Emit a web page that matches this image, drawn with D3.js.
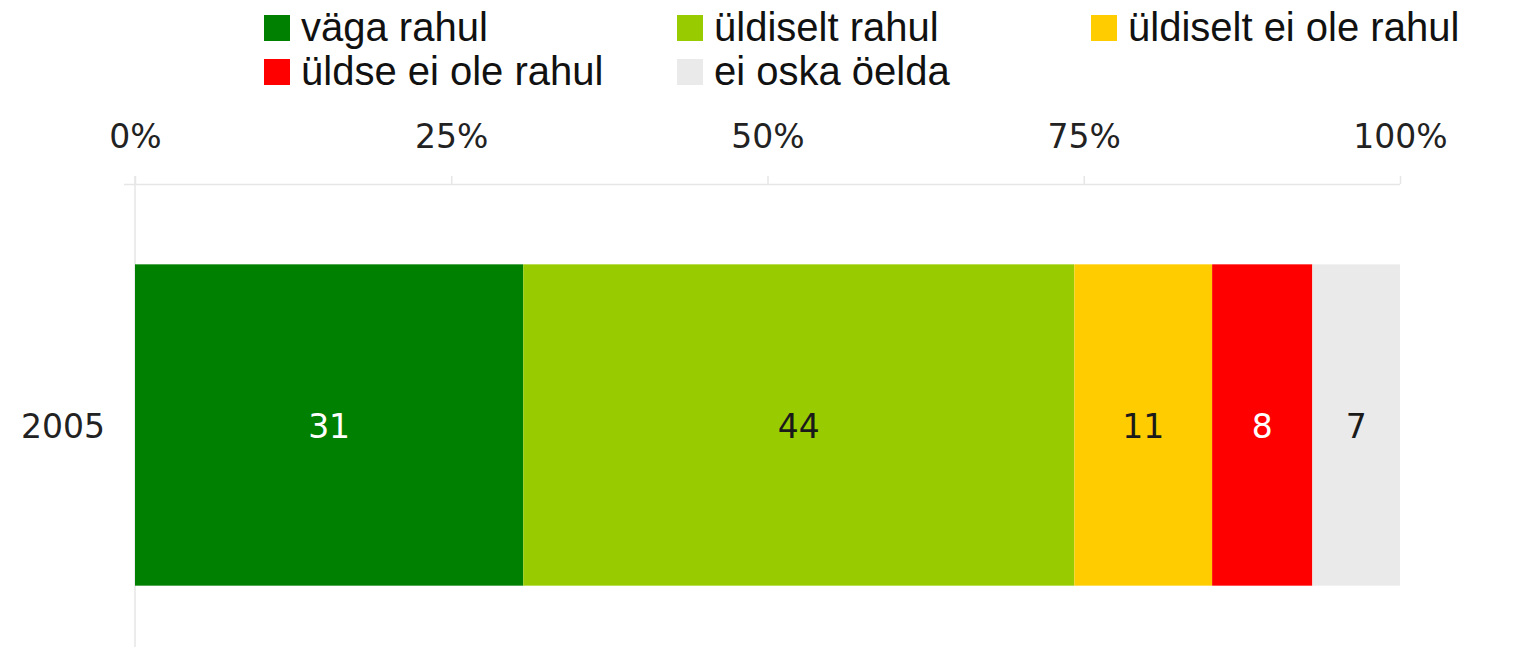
<!DOCTYPE html>
<html>
<head>
<meta charset="utf-8">
<script src="https://cdn.jsdelivr.net/npm/d3@7"></script>
<style>
  html, body { margin: 0; padding: 0; background: #ffffff; }
  svg { display: block; }
</style>
</head>
<body>
<div id="chart"></div>
<script>
const categories = ["2005"];
const seriesNames = ["väga rahul", "üldiselt rahul", "üldiselt ei ole rahul", "üldse ei ole rahul", "ei oska öelda"];
const seriesValues = [31, 44, 11, 8, 7];
const seriesColors = ["#008000", "#99cc00", "#ffcc00", "#ff0000", "#eaeaea"];
const labelColors = ["#ffffff", "#1a1a1a", "#1a1a1a", "#ffffff", "#1a1a1a"];
const tickValues = [0, 25, 50, 75, 100];
const tickLabels = ["0%", "25%", "50%", "75%", "100%"];

(function () {
const W = 1539, H = 647;
const svg = d3.select("#chart").append("svg").attr("width", W).attr("height", H);

const mLeft = 135, mRight = 1400, mTop = 184, mBottom = 666;
const x = d3.scaleLinear().domain([0, 100]).range([mLeft, mRight]);
const y = d3.scaleBand().domain(categories).range([mTop, mBottom]).paddingInner(0.2).paddingOuter(0.2);

const total = d3.sum(seriesValues);
const stackData = [{cat: categories[0]}];
seriesNames.forEach((n, i) => stackData[0][n] = seriesValues[i] / total * 100);
const stacked = d3.stack().keys(seriesNames)(stackData);

const gridColor = "#e6e6e6";
// axis lines
svg.append("line").attr("x1", 124).attr("x2", mRight).attr("y1", mTop + 0.5).attr("y2", mTop + 0.5)
  .attr("stroke", gridColor).attr("stroke-width", 1.5);
svg.append("line").attr("x1", mLeft).attr("x2", mLeft).attr("y1", mTop - 8).attr("y2", H)
  .attr("stroke", gridColor).attr("stroke-width", 1.5);

const axis = d3.axisTop(x).tickValues(tickValues).tickFormat((d, i) => tickLabels[i]).tickSize(8).tickPadding(28);
const ga = svg.append("g").attr("transform", `translate(0,${mTop})`).call(axis);
ga.select(".domain").remove();
ga.selectAll(".tick line").attr("stroke", gridColor).attr("stroke-width", 1.5);
ga.selectAll(".tick text").attr("font-family", "DejaVu Sans, Verdana, sans-serif")
  .attr("font-size", 33).attr("fill", "#222");

// bars
const gs = svg.append("g");
stacked.forEach((s, i) => {
  s.forEach(d => {
    gs.append("rect")
      .attr("x", x(d[0])).attr("y", y(d.data.cat))
      .attr("width", x(d[1]) - x(d[0])).attr("height", y.bandwidth())
      .attr("fill", seriesColors[i]);
    gs.append("text")
      .attr("x", (x(d[0]) + x(d[1])) / 2)
      .attr("y", y(d.data.cat) + y.bandwidth() / 2 + 13)
      .attr("text-anchor", "middle")
      .attr("font-family", "DejaVu Sans, Verdana, sans-serif")
      .attr("font-size", 33).attr("fill", labelColors[i])
      .text(seriesValues[i]);
  });
});

// category labels
svg.append("g").selectAll("text").data(categories).join("text")
  .attr("x", mLeft - 30).attr("y", d => y(d) + y.bandwidth() / 2 + 13)
  .attr("text-anchor", "end")
  .attr("font-family", "DejaVu Sans, Verdana, sans-serif")
  .attr("font-size", 33).attr("fill", "#222")
  .text(d => d);

// legend
const legendX = [264, 677, 1091];
const legendY = [41, 85];
const lg = svg.append("g");
seriesNames.forEach((n, i) => {
  const col = i % 3, row = Math.floor(i / 3);
  const gx = legendX[col], by = legendY[row];
  lg.append("rect").attr("x", gx).attr("y", by - 26).attr("width", 26).attr("height", 26)
    .attr("fill", seriesColors[i]);
  lg.append("text").attr("x", gx + 37).attr("y", by)
    .attr("font-family", "Liberation Sans, Arial, sans-serif")
    .attr("font-size", 40).attr("fill", "#111")
    .text(n);
});
})();
</script>
</body>
</html>
